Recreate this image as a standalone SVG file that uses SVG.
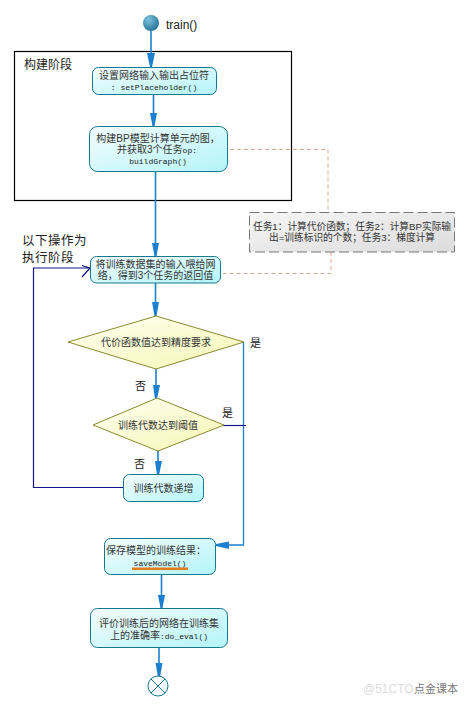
<svg xmlns="http://www.w3.org/2000/svg" width="471" height="705" viewBox="0 0 471 705">
<style>
text{font-family:"Liberation Sans","Noto Sans CJK SC",sans-serif;font-size:10px;fill:#333;text-anchor:middle}
.lab{font-size:12px;text-anchor:start;fill:#222}
.code{font-family:"Liberation Mono","Noto Sans CJK SC",monospace;font-size:8px;fill:#222}
.node{fill:url(#ng);stroke:#14788f;stroke-width:1}
.dia{fill:url(#dg);stroke:#8a8a30;stroke-width:1}
.flow{fill:none;stroke:#1c7fd0;stroke-width:1.6}
.back{fill:none;stroke:#14148c;stroke-width:1.2}
.dash{fill:none;stroke:#d8a890;stroke-width:1;stroke-dasharray:4 3}
</style>
<defs>
<linearGradient id="ng" x1="0" y1="0" x2="1" y2="1"><stop offset="0" stop-color="#f4fdfd"/><stop offset="1" stop-color="#b4f4fa"/></linearGradient>
<linearGradient id="dg" x1="0" y1="0" x2="1" y2="1"><stop offset="0" stop-color="#fffff2"/><stop offset="1" stop-color="#f6f6b4"/></linearGradient>
<linearGradient id="ngr" x1="0" y1="0" x2="1" y2="1"><stop offset="0" stop-color="#f6f6f6"/><stop offset="1" stop-color="#dcdcdc"/></linearGradient>
<radialGradient id="sg" cx="0.35" cy="0.3" r="0.8"><stop offset="0" stop-color="#7fc0d8"/><stop offset="1" stop-color="#1c6f98"/></radialGradient>
</defs>
<rect width="471" height="705" fill="#fff"/>
<rect id="frame" x="14.500" y="51.500" width="277" height="149" fill="none" stroke="#000" stroke-width="1.200"/>
<text class="lab" x="24" y="69">构建阶段</text>
<g id="connectors">
<path class="flow" d="M151 31V67"/><path d="M147 53L155 53L152 67H150Z" fill="#1c7fd0"/>
<path class="flow" d="M153.500 94V126"/><path d="M150 113L157 113L154.500 126H152.500Z" fill="#1c7fd0"/>
<path class="flow" d="M155.500 171V256"/><path d="M152 243L159 243L156.500 256H154.500Z" fill="#1c7fd0"/>
<path class="flow" d="M155.500 283V316"/><path d="M152 302L159 302L156.500 316H154.500Z" fill="#1c7fd0"/>
<path class="flow" d="M156 369V399"/><path d="M153 385L160 385L157 399H155Z" fill="#1c7fd0"/>
<path class="flow" d="M158 451V475"/><path d="M155 461L162 461L159 475H157Z" fill="#1c7fd0"/>
<path class="flow" d="M161.500 574V608"/><path d="M158 595L165 595L162.500 608H160.500Z" fill="#1c7fd0"/>
<path class="flow" d="M159 647V677"/><path d="M155.500 663L162.500 663L160 677H158Z" fill="#1c7fd0"/>
<path d="M244 342H243.500V545H216" fill="none" stroke="#1c7fd0" stroke-width="1.300"/><path d="M229 541.500V549L216 546V544Z" fill="#1c7fd0"/>
<path class="back" d="M223 425.500H246"/>
<path class="back" d="M123 487.500H33.500V268H90M82 265.500L90 268L82 277"/>
<path class="dash" d="M230 149.500H328V212"/>
<path class="dash" d="M331 252V273.500H223"/>
</g>
<g id="start"><circle cx="151" cy="23" r="8" fill="url(#sg)"/><text class="lab" x="166" y="29">train()</text></g>
<g id="n1"><rect class="node" x="92.500" y="67.500" width="124" height="27" rx="6"/><text x="154" y="78.500">设置网络输入输出占位符</text><text class="code" x="154" y="89.500">: setPlaceholder()</text></g>
<g id="n2"><rect class="node" x="89.500" y="126.500" width="138" height="45" rx="8"/><text x="158" y="142">构建BP模型计算单元的图&#xFF0C;</text><text x="157" y="153">并获取3个任务<tspan class="code">op:</tspan></text><text class="code" x="158" y="163.500">buildGraph()</text></g>
<g id="note"><rect x="249.500" y="212.500" width="205" height="39.500" fill="url(#ngr)" stroke="#777" stroke-width="1" stroke-dasharray="10 4"/><text x="352" y="229.500" style="font-size:9.700px">任务1&#xFF1A;计算代价函数&#xFF1B;任务2&#xFF1A;计算BP实际输</text><text x="352" y="240.500" style="font-size:9.700px">出=训练标识的个数&#xFF1B;任务3&#xFF1A;梯度计算</text></g>
<g id="n3"><rect class="node" x="90.500" y="256.500" width="130" height="26.500" rx="6"/><text x="155.500" y="268">将训练数据集的输入喂给网</text><text x="155.500" y="279">络&#xFF0C;得到3个任务的返回值</text></g>
<text class="lab" x="22" y="244.500" style="font-size:12.500px;letter-spacing:.5px">以下操作为</text>
<text class="lab" x="22" y="262" style="font-size:12.500px;letter-spacing:.5px">执行阶段</text>
<g id="d1"><path class="dia" d="M68 342L156 316L244 342L156 369Z"/><text x="156" y="345.500">代价函数值达到精度要求</text><text class="lab" x="250" y="347" style="font-size:11px">是</text></g>
<text class="lab" x="135" y="390" style="font-size:11px">否</text>
<g id="d2"><path class="dia" d="M93 425L157 398L224 425L158 451Z"/><text x="158" y="428.500">训练代数达到阈值</text><text class="lab" x="222" y="417" style="font-size:11px">是</text></g>
<text class="lab" x="134" y="468" style="font-size:11px">否</text>
<g id="n4"><rect class="node" x="123.500" y="474.500" width="80" height="27" rx="6"/><text x="163.500" y="491.500">训练代数递增</text></g>
<g id="n5"><rect class="node" x="104.500" y="538.500" width="111" height="36" rx="6"/><text x="156" y="554">保存模型的训练结果&#xFF1A;</text><text class="code" x="160" y="565.500">saveModel()</text><rect x="132" y="567.500" width="56" height="2.500" fill="#e07b20"/></g>
<g id="n6"><rect class="node" x="90.500" y="608.500" width="137" height="39" rx="7"/><text x="159" y="627">评价训练后的网络在训练集</text><text x="159" y="638.500">上的准确率<tspan class="code">:do_eval()</tspan></text></g>
<g id="end"><circle cx="158" cy="686" r="10" fill="#fff" stroke="#14788f" stroke-width="1"/><path d="M151 679L165 693M165 679L151 693" stroke="#14788f" stroke-width="1"/></g>
<g id="wm"><text x="363" y="693" style="font-size:12px;text-anchor:start;fill:#ddd">@51CTO</text><text x="414" y="693" style="font-size:11px;text-anchor:start;fill:#777">点金课本</text></g>
</svg>
